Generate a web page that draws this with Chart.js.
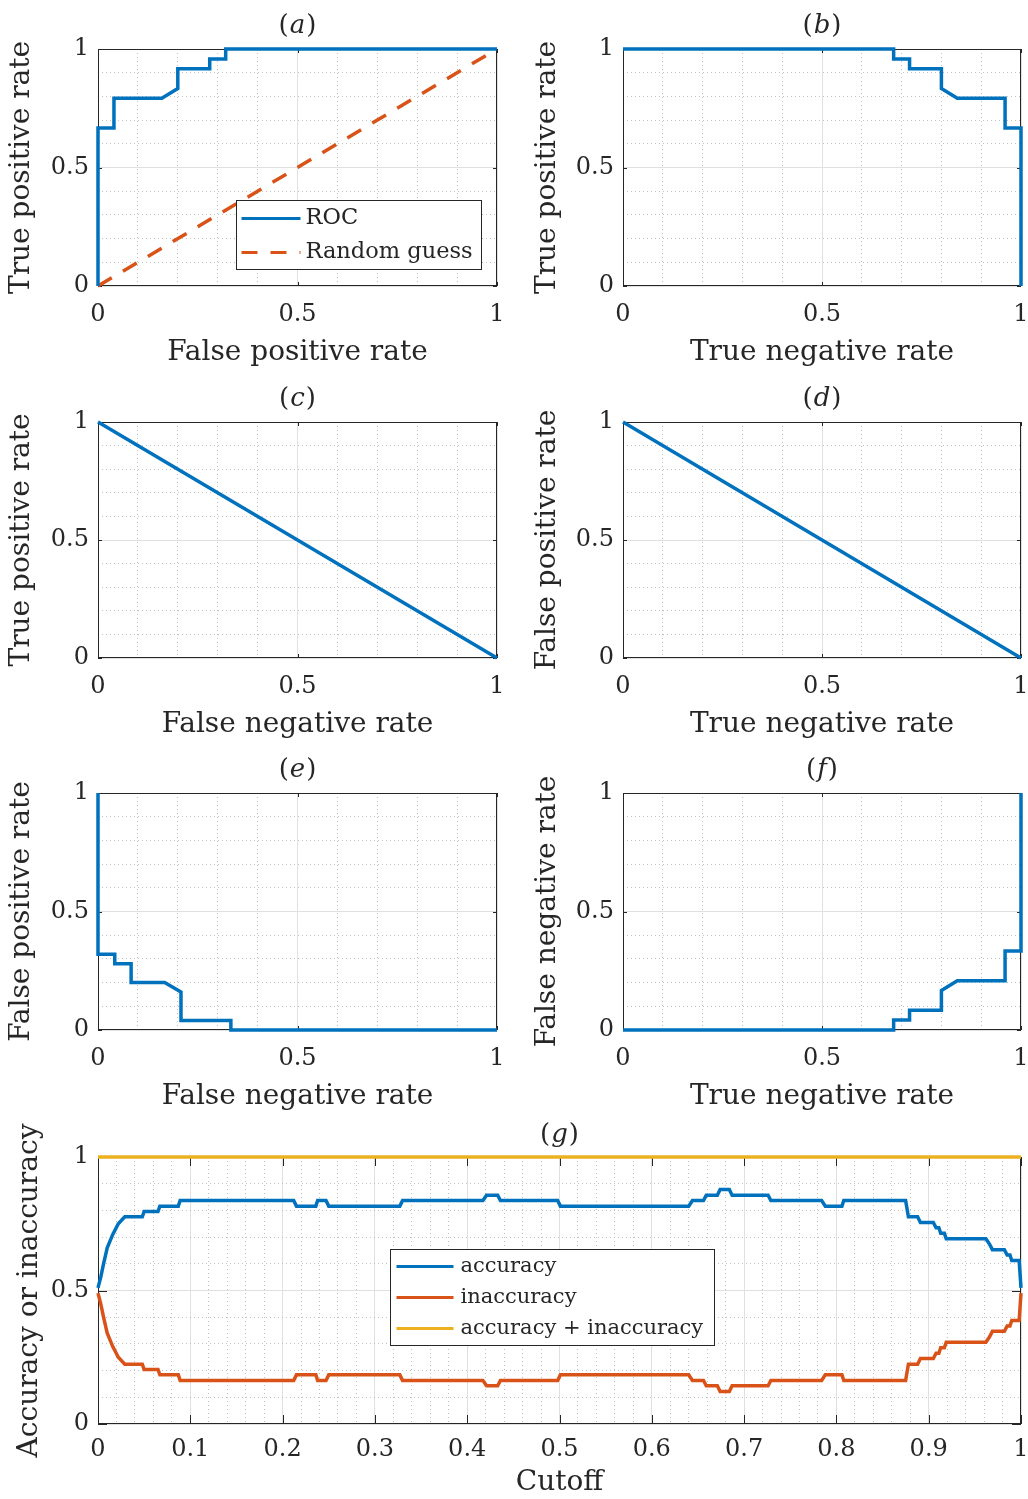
<!DOCTYPE html>
<html>
<head>
<meta charset="utf-8">
<title>ROC analysis and accuracy versus cutoff</title>
<script src="https://cdn.jsdelivr.net/npm/chart.js@4.4.1/dist/chart.umd.min.js"></script>
<style>
  html, body { margin: 0; padding: 0; background: #ffffff; }
  body { width: 1028px; height: 1499px; position: relative; overflow: hidden; }
  canvas { position: absolute; }
</style>
</head>
<body>
<canvas id="panelA"></canvas>
<canvas id="panelB"></canvas>
<canvas id="panelC"></canvas>
<canvas id="panelD"></canvas>
<canvas id="panelE"></canvas>
<canvas id="panelF"></canvas>
<canvas id="panelG"></canvas>
<script>
// ---- data -------------------------------------------------------------
// (a) ROC curve: false positive rate vs true positive rate
const fprA = [0, 0, 0.04, 0.04, 0.16, 0.2, 0.2, 0.28, 0.28, 0.32, 0.32, 1];
const tprA = [0, 0.667, 0.667, 0.792, 0.792, 0.833, 0.917, 0.917, 0.958, 0.958, 1, 1];
const guessX = [0, 1];
const guessY = [0, 1];

// (b) true negative rate vs true positive rate
const tnrB = [0, 0.68, 0.68, 0.72, 0.72, 0.8, 0.8, 0.84, 0.96, 0.96, 1, 1];
const tprB = [1, 1, 0.958, 0.958, 0.917, 0.917, 0.833, 0.792, 0.792, 0.667, 0.667, 0];

// (c) false negative rate vs true positive rate
const fnrC = [0, 1];
const tprC = [1, 0];

// (d) true negative rate vs false positive rate
const tnrD = [0, 1];
const fprD = [1, 0];

// (e) false negative rate vs false positive rate
const fnrE = [0, 0, 0.042, 0.042, 0.083, 0.083, 0.167, 0.208, 0.208, 0.333, 0.333, 1];
const fprE = [1, 0.32, 0.32, 0.28, 0.28, 0.2, 0.2, 0.16, 0.04, 0.04, 0, 0];

// (f) true negative rate vs false negative rate
const tnrF = [0, 0.68, 0.68, 0.72, 0.72, 0.8, 0.8, 0.84, 0.96, 0.96, 1, 1];
const fnrF = [0, 0, 0.042, 0.042, 0.083, 0.083, 0.167, 0.208, 0.208, 0.333, 0.333, 1];

// (g) accuracy and inaccuracy against the classification cutoff
const cutoff = [
  0, 0.003, 0.006, 0.010, 0.016, 0.022, 0.029, 0.048, 0.050, 0.065,
  0.067, 0.087, 0.089, 0.212, 0.215, 0.236, 0.238, 0.247, 0.250, 0.327,
  0.330, 0.417, 0.421, 0.433, 0.436, 0.498, 0.501, 0.640, 0.644, 0.656,
  0.659, 0.671, 0.674, 0.684, 0.687, 0.726, 0.729, 0.784, 0.788, 0.806,
  0.808, 0.875, 0.878, 0.888, 0.891, 0.905, 0.908, 0.911, 0.913, 0.917,
  0.919, 0.962, 0.966, 0.969, 0.982, 0.985, 0.988, 0.990, 0.998, 1.0
];
const accuracy = [
  0.51, 0.55, 0.60, 0.66, 0.71, 0.75, 0.776, 0.776, 0.796, 0.796,
  0.816, 0.816, 0.837, 0.837, 0.816, 0.816, 0.837, 0.837, 0.816, 0.816,
  0.837, 0.837, 0.857, 0.857, 0.837, 0.837, 0.816, 0.816, 0.837, 0.837,
  0.857, 0.857, 0.878, 0.878, 0.857, 0.857, 0.837, 0.837, 0.816, 0.816,
  0.837, 0.837, 0.776, 0.776, 0.755, 0.755, 0.735, 0.735, 0.714, 0.714,
  0.694, 0.694, 0.673, 0.653, 0.653, 0.633, 0.633, 0.612, 0.612, 0.51
];
const inaccuracy = [
  0.49, 0.45, 0.40, 0.34, 0.29, 0.25, 0.224, 0.224, 0.204, 0.204,
  0.184, 0.184, 0.163, 0.163, 0.184, 0.184, 0.163, 0.163, 0.184, 0.184,
  0.163, 0.163, 0.143, 0.143, 0.163, 0.163, 0.184, 0.184, 0.163, 0.163,
  0.143, 0.143, 0.122, 0.122, 0.143, 0.143, 0.163, 0.163, 0.184, 0.184,
  0.163, 0.163, 0.224, 0.224, 0.245, 0.245, 0.265, 0.265, 0.286, 0.286,
  0.306, 0.306, 0.327, 0.347, 0.347, 0.367, 0.367, 0.388, 0.388, 0.49
];
const sumCutoff = [0, 1];
const sumValues = [1, 1];

// tick labels
const unitTickLabels = ['0', '0.5', '1'];
const cutoffTickLabels = ['0', '0.1', '0.2', '0.3', '0.4', '0.5', '0.6', '0.7', '0.8', '0.9', '1'];

// ---- styling ----------------------------------------------------------
const FONT = "'DejaVu Serif', 'Liberation Serif', serif";
const TEXT = '#262626';
const AXIS = '#262626';
const BLUE = '#0072BD';
const ORANGE = '#D95319';
const YELLOW = '#EDB120';
const MAJOR_GRID = '#e0e0e0';
const MINOR_GRID = '#c2c2c2';
const LINE_WIDTH = 3.5;

Chart.defaults.font.family = FONT;
Chart.defaults.color = TEXT;

const pairs = (xs, ys) => xs.map((x, i) => ({ x: x, y: ys[i] }));

// unit axes: grid every 0.1, labels at 0, 0.5, 1
const unitMajor = v => Math.round(v * 10) % 5 === 0;
const unitLabel = v => unitMajor(v) ? unitTickLabels[Math.round(v * 2)] : '';
// cutoff axis: grid every 0.02, labels every 0.1
const cutMajor = v => Math.round(v * 50) % 5 === 0;
const cutLabel = v => cutMajor(v) ? cutoffTickLabels[Math.round(v * 10)] : '';

function zeroPadding(s) {
  s.paddingLeft = 0; s.paddingRight = 0; s.paddingTop = 0; s.paddingBottom = 0;
}

function makeAxis(opts) {
  const horizontal = opts.axis === 'x';
  return {
    type: 'linear',
    position: horizontal ? 'bottom' : 'left',
    min: 0, max: 1,
    afterFit: s => {
      if (horizontal) s.height = opts.size; else s.width = opts.size;
      zeroPadding(s);
    },
    ticks: {
      stepSize: opts.step,
      autoSkip: false,
      maxRotation: 0,
      minRotation: 0,
      padding: opts.tickPad,
      color: TEXT,
      font: { family: FONT, size: 24 },
      callback: v => opts.label(v)
    },
    grid: {
      drawTicks: false,
      lineWidth: 1,
      color: c => (c.tick && opts.major(c.tick.value)) ? MAJOR_GRID : MINOR_GRID
    },
    border: {
      display: false,
      dash: c => (c.tick && !opts.major(c.tick.value)) ? [1, 3] : []
    },
    title: {
      display: true,
      text: opts.title,
      color: TEXT,
      font: { family: FONT, size: 28, lineHeight: 1 },
      padding: horizontal ? { top: 0, bottom: opts.titlePad } : { top: opts.titlePad, bottom: 0 }
    }
  };
}

// box, inward tick marks, panel letter and in-axes legend
const decorPlugin = {
  id: 'decor',
  beforeDatasetsDraw(chart, args, o) {
    const { ctx, chartArea: a, scales } = chart;
    ctx.save();
    ctx.strokeStyle = AXIS;
    ctx.lineWidth = 1;
    ctx.setLineDash([]);
    ctx.strokeRect(a.left + 0.5, a.top + 0.5, a.right - a.left - 1, a.bottom - a.top - 1);
    const L = o.tickLen;
    ctx.beginPath();
    scales.x.ticks.forEach(t => {
      if (!o.xMajor(t.value)) return;
      const px = Math.round(scales.x.getPixelForValue(t.value)) + 0.5;
      ctx.moveTo(px, a.bottom); ctx.lineTo(px, a.bottom - L);
      ctx.moveTo(px, a.top); ctx.lineTo(px, a.top + L);
    });
    scales.y.ticks.forEach(t => {
      if (!o.yMajor(t.value)) return;
      const py = Math.round(scales.y.getPixelForValue(t.value)) + 0.5;
      ctx.moveTo(a.left, py); ctx.lineTo(a.left + L, py);
      ctx.moveTo(a.right, py); ctx.lineTo(a.right - L, py);
    });
    ctx.stroke();
    ctx.restore();
  },
  afterDatasetsDraw(chart, args, o) {
    const lg = o.legend;
    if (!lg) return;
    const { ctx, chartArea: a } = chart;
    const bx = Math.round(a.left + lg.x) + 0.5;
    const by = Math.round(a.top + lg.y) + 0.5;
    ctx.save();
    ctx.fillStyle = '#ffffff';
    ctx.fillRect(bx, by, lg.w, lg.h);
    ctx.strokeStyle = AXIS;
    ctx.lineWidth = 1;
    ctx.strokeRect(bx, by, lg.w, lg.h);
    ctx.font = lg.fontSize + 'px ' + FONT;
    ctx.textBaseline = 'middle';
    ctx.textAlign = 'left';
    chart.data.datasets.forEach((ds, i) => {
      const cy = by + lg.rowStart + i * lg.rowGap;
      ctx.strokeStyle = ds.borderColor;
      ctx.lineWidth = 3;
      ctx.setLineDash(ds.borderDash || []);
      ctx.beginPath();
      ctx.moveTo(bx + lg.sample[0], cy);
      ctx.lineTo(bx + lg.sample[1], cy);
      ctx.stroke();
      ctx.fillStyle = TEXT;
      ctx.fillText(ds.label, bx + lg.textX, cy);
    });
    ctx.restore();
  },
  afterDraw(chart, args, o) {
    const { ctx, chartArea: a } = chart;
    const upright = o.titleSize + 'px ' + FONT;
    const italic = 'italic ' + o.titleSize + 'px ' + FONT;
    ctx.save();
    ctx.fillStyle = TEXT;
    ctx.textBaseline = 'middle';
    ctx.textAlign = 'left';
    ctx.font = upright;
    const wOpen = ctx.measureText('(').width;
    const wClose = ctx.measureText(')').width;
    ctx.font = italic;
    const wLetter = ctx.measureText(o.letter).width;
    const total = wOpen + wLetter + wClose + 2;
    let x = (a.left + a.right) / 2 - total / 2;
    const y = a.top - o.titleGap;
    ctx.font = upright;
    ctx.fillText('(', x, y);
    x += wOpen + 1;
    ctx.font = italic;
    ctx.fillText(o.letter, x, y);
    x += wLetter + 1;
    ctx.font = upright;
    ctx.fillText(')', x, y);
    ctx.restore();
  }
};

function line(label, data, color, dash) {
  return {
    label: label,
    data: data,
    showLine: true,
    borderColor: color,
    backgroundColor: color,
    borderWidth: LINE_WIDTH,
    borderDash: dash || [],
    pointRadius: 0,
    pointHoverRadius: 0,
    tension: 0,
    fill: false,
    clip: 6
  };
}

// place a canvas and build its chart
function panel(id, place, datasets, axes, decor) {
  const cv = document.getElementById(id);
  cv.width = place.w;
  cv.height = place.h;
  cv.style.left = place.x + 'px';
  cv.style.top = place.y + 'px';
  cv.style.width = place.w + 'px';
  cv.style.height = place.h + 'px';
  return new Chart(cv, {
    type: 'scatter',
    data: { datasets: datasets },
    options: {
      responsive: false,
      maintainAspectRatio: false,
      devicePixelRatio: 1,
      animation: false,
      events: [],
      layout: { padding: { top: place.padTop, right: place.padRight, left: 0, bottom: 0 } },
      scales: { x: axes.x, y: axes.y },
      plugins: {
        legend: { display: false },
        tooltip: { enabled: false },
        decor: decor
      }
    },
    plugins: [decorPlugin]
  });
}

// grid of the six small panels
const LEFT_COL = { x: 0, w: 512, yAxis: 98, padRight: 15, yTitlePad: 8 };
const RIGHT_COL = { x: 512, w: 516, yAxis: 111, padRight: 7, yTitlePad: 22 };
const ROWS = [
  { y: 0, h: 375, padTop: 49 },
  { y: 375, h: 372, padTop: 47 },
  { y: 747, h: 372, padTop: 46 }
];

function smallPanel(id, col, row, xTitle, yTitle, letter, datasets, legend) {
  const place = { x: col.x, y: row.y, w: col.w, h: row.h, padTop: row.padTop, padRight: col.padRight };
  const axes = {
    x: makeAxis({ axis: 'x', size: 89, step: 0.1, tickPad: 14, label: unitLabel, major: unitMajor, title: xTitle, titlePad: 8 }),
    y: makeAxis({ axis: 'y', size: col.yAxis, step: 0.1, tickPad: 9, label: unitLabel, major: unitMajor, title: yTitle, titlePad: col.yTitlePad })
  };
  return panel(id, place, datasets, axes, {
    letter: letter, titleSize: 26, titleGap: 23, tickLen: 4,
    xMajor: unitMajor, yMajor: unitMajor, legend: legend
  });
}

smallPanel('panelA', LEFT_COL, ROWS[0], 'False positive rate', 'True positive rate', 'a', [
  line('ROC', pairs(fprA, tprA), BLUE),
  line('Random guess', pairs(guessX, guessY), ORANGE, [16, 13])
], { x: 138, y: 151, w: 245, h: 69, rowStart: 18, rowGap: 34, sample: [5, 64], textX: 69, fontSize: 22.5 });

smallPanel('panelB', RIGHT_COL, ROWS[0], 'True negative rate', 'True positive rate', 'b', [
  line('ROC', pairs(tnrB, tprB), BLUE)
]);

smallPanel('panelC', LEFT_COL, ROWS[1], 'False negative rate', 'True positive rate', 'c', [
  line('TPR', pairs(fnrC, tprC), BLUE)
]);

smallPanel('panelD', RIGHT_COL, ROWS[1], 'True negative rate', 'False positive rate', 'd', [
  line('FPR', pairs(tnrD, fprD), BLUE)
]);

smallPanel('panelE', LEFT_COL, ROWS[2], 'False negative rate', 'False positive rate', 'e', [
  line('FPR', pairs(fnrE, fprE), BLUE)
]);

smallPanel('panelF', RIGHT_COL, ROWS[2], 'True negative rate', 'False negative rate', 'f', [
  line('FNR', pairs(tnrF, fnrF), BLUE)
]);

// wide accuracy panel
panel('panelG', { x: 0, y: 1119, w: 1028, h: 380, padTop: 38, padRight: 7 }, [
  line('accuracy', pairs(cutoff, accuracy), BLUE),
  line('inaccuracy', pairs(cutoff, inaccuracy), ORANGE),
  line('accuracy + inaccuracy', pairs(sumCutoff, sumValues), YELLOW)
], {
  x: makeAxis({ axis: 'x', size: 75, step: 0.02, tickPad: 11, label: cutLabel, major: cutMajor, title: 'Cutoff', titlePad: 2 }),
  y: makeAxis({ axis: 'y', size: 98, step: 0.1, tickPad: 9, label: unitLabel, major: unitMajor, title: 'Accuracy or inaccuracy', titlePad: 16 })
}, {
  letter: 'g', titleSize: 26, titleGap: 22, tickLen: 9,
  xMajor: cutMajor, yMajor: unitMajor,
  legend: { x: 292, y: 92, w: 324, h: 96, rowStart: 17, rowGap: 31, sample: [6, 63], textX: 70, fontSize: 21 }
});
</script>
</body>
</html>
